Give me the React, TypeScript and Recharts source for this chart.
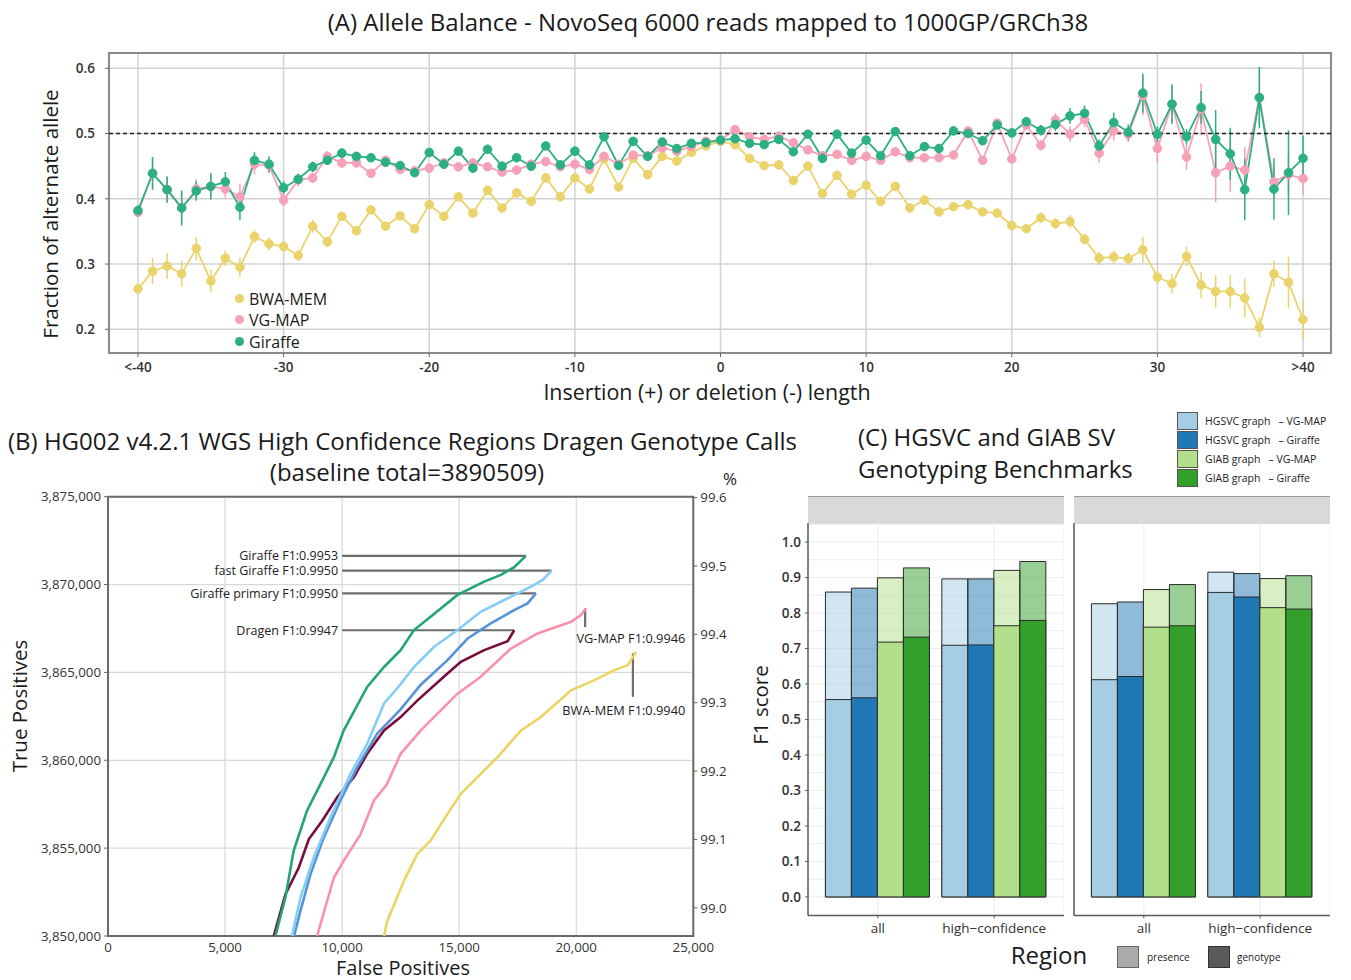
import React from 'react';
import {
  ComposedChart, LineChart, BarChart, Line, Bar, XAxis, YAxis, CartesianGrid,
  ErrorBar, ReferenceLine, ReferenceArea, ReferenceDot,
} from 'recharts';

const FONT = '"Open Sans", "Noto Sans", sans-serif';

// ---------------- Panel A : allele balance ----------------
const indelLengths = [
  -40, -39, -38, -37, -36, -35, -34, -33, -32, -31, -30, -29, -28, -27, -26, -25, -24, -23, -22, -21,
  -20, -19, -18, -17, -16, -15, -14, -13, -12, -11, -10, -9, -8, -7, -6, -5, -4, -3, -2, -1,
  0, 1, 2, 3, 4, 5, 6, 7, 8, 9, 10, 11, 12, 13, 14, 15, 16, 17, 18, 19,
  20, 21, 22, 23, 24, 25, 26, 27, 28, 29, 30, 31, 32, 33, 34, 35, 36, 37, 38, 39, 40,
];
const bwaMem = [
  0.262, 0.289, 0.297, 0.285, 0.324, 0.274, 0.309, 0.295, 0.342, 0.331, 0.327, 0.313, 0.358, 0.334, 0.373, 0.351, 0.383, 0.358, 0.374, 0.354,
  0.391, 0.373, 0.403, 0.378, 0.413, 0.386, 0.409, 0.396, 0.432, 0.403, 0.432, 0.415, 0.461, 0.418, 0.462, 0.437, 0.465, 0.458, 0.471, 0.481,
  0.488, 0.483, 0.462, 0.451, 0.452, 0.428, 0.450, 0.408, 0.436, 0.407, 0.421, 0.396, 0.419, 0.386, 0.398, 0.380, 0.388, 0.391, 0.380, 0.378,
  0.359, 0.354, 0.371, 0.362, 0.365, 0.338, 0.309, 0.311, 0.308, 0.322, 0.280, 0.270, 0.312, 0.268, 0.258, 0.258, 0.248, 0.203, 0.285, 0.272, 0.215,
];
const vgMap = [
  0.379, 0.439, 0.414, 0.386, 0.415, 0.419, 0.415, 0.403, 0.453, 0.451, 0.398, 0.429, 0.432, 0.465, 0.455, 0.455, 0.439, 0.459, 0.445, 0.443,
  0.447, 0.455, 0.449, 0.455, 0.449, 0.441, 0.444, 0.453, 0.457, 0.449, 0.453, 0.445, 0.465, 0.453, 0.467, 0.466, 0.478, 0.473, 0.480, 0.488,
  0.490, 0.506, 0.495, 0.491, 0.496, 0.486, 0.475, 0.466, 0.468, 0.459, 0.465, 0.459, 0.472, 0.463, 0.463, 0.463, 0.467, 0.504, 0.459, 0.516,
  0.461, 0.513, 0.482, 0.521, 0.499, 0.522, 0.470, 0.504, 0.499, 0.558, 0.477, 0.545, 0.464, 0.537, 0.440, 0.450, 0.444, 0.555, 0.426, 0.437, 0.431,
];
const giraffe = [
  0.382, 0.439, 0.414, 0.386, 0.412, 0.419, 0.426, 0.387, 0.459, 0.453, 0.417, 0.430, 0.449, 0.459, 0.470, 0.465, 0.463, 0.456, 0.451, 0.440,
  0.471, 0.453, 0.473, 0.447, 0.476, 0.450, 0.463, 0.450, 0.481, 0.452, 0.473, 0.452, 0.495, 0.451, 0.488, 0.465, 0.487, 0.477, 0.485, 0.486,
  0.490, 0.492, 0.485, 0.483, 0.491, 0.472, 0.499, 0.462, 0.499, 0.470, 0.490, 0.466, 0.503, 0.466, 0.480, 0.477, 0.504, 0.500, 0.489, 0.513,
  0.501, 0.518, 0.505, 0.514, 0.527, 0.531, 0.481, 0.517, 0.502, 0.562, 0.499, 0.545, 0.495, 0.540, 0.491, 0.469, 0.414, 0.555, 0.415, 0.440, 0.462,
];
const bwaMemErr = [
  0.006, 0.020, 0.020, 0.020, 0.018, 0.018, 0.012, 0.015, 0.010, 0.010, 0.008, 0.008, 0.010, 0.008, 0.006, 0.006, 0.006, 0.005, 0.005, 0.005,
  0.005, 0.005, 0.005, 0.005, 0.005, 0.005, 0.005, 0.005, 0.005, 0.005, 0.005, 0.005, 0.005, 0.005, 0.005, 0.005, 0.005, 0.005, 0.005, 0.005,
  0.005, 0.005, 0.005, 0.005, 0.005, 0.005, 0.005, 0.005, 0.005, 0.005, 0.005, 0.005, 0.005, 0.005, 0.005, 0.005, 0.005, 0.005, 0.005, 0.005,
  0.006, 0.006, 0.008, 0.008, 0.010, 0.008, 0.010, 0.010, 0.010, 0.020, 0.010, 0.015, 0.015, 0.020, 0.025, 0.025, 0.030, 0.015, 0.020, 0.040, 0.030,
];
const vgMapErr = [
  0.006, 0.025, 0.020, 0.025, 0.015, 0.020, 0.015, 0.020, 0.015, 0.012, 0.010, 0.010, 0.008, 0.008, 0.007, 0.006, 0.006, 0.006, 0.005, 0.005,
  0.004, 0.004, 0.004, 0.004, 0.004, 0.004, 0.004, 0.004, 0.004, 0.004, 0.004, 0.004, 0.004, 0.004, 0.004, 0.004, 0.004, 0.004, 0.004, 0.004,
  0.004, 0.004, 0.004, 0.004, 0.004, 0.004, 0.004, 0.004, 0.004, 0.004, 0.004, 0.004, 0.004, 0.004, 0.004, 0.004, 0.005, 0.006, 0.006, 0.006,
  0.006, 0.007, 0.008, 0.010, 0.012, 0.012, 0.015, 0.015, 0.012, 0.030, 0.022, 0.030, 0.020, 0.040, 0.045, 0.040, 0.035, 0.040, 0.025, 0.030, 0.025,
];
const giraffeErr = [
  0.008, 0.025, 0.020, 0.027, 0.015, 0.020, 0.015, 0.020, 0.013, 0.012, 0.010, 0.008, 0.008, 0.007, 0.007, 0.006, 0.006, 0.006, 0.005, 0.005,
  0.004, 0.004, 0.004, 0.004, 0.004, 0.004, 0.004, 0.004, 0.004, 0.004, 0.004, 0.004, 0.004, 0.004, 0.004, 0.004, 0.004, 0.004, 0.004, 0.004,
  0.004, 0.004, 0.004, 0.004, 0.004, 0.004, 0.004, 0.004, 0.004, 0.004, 0.004, 0.004, 0.004, 0.004, 0.004, 0.004, 0.005, 0.006, 0.006, 0.006,
  0.006, 0.007, 0.008, 0.010, 0.012, 0.012, 0.010, 0.015, 0.012, 0.030, 0.012, 0.030, 0.012, 0.025, 0.045, 0.040, 0.047, 0.047, 0.047, 0.065, 0.035,
];
const aXTicks = [-40, -30, -20, -10, 0, 10, 20, 30, 40];
const aXTickLabels = ['<-40', '-30', '-20', '-10', '0', '10', '20', '30', '>40'];
const aYTicks = [0.2, 0.3, 0.4, 0.5, 0.6];
const aSeries = [
  { key: 'bwa', name: 'BWA-MEM', color: '#ebd36c' },
  { key: 'vg', name: 'VG-MAP', color: '#f7a1b6' },
  { key: 'gir', name: 'Giraffe', color: '#2bb084' },
];

// ---------------- Panel B : ROC-like curves ----------------
const baselineTotal = 3890509;
const giraffeFp = [7150, 7580, 7930, 8500, 9080, 9650, 10070, 11070, 11790, 12500, 13070, 13780, 14930, 16070, 16780, 17350, 17850];
const giraffeTp = [3850000, 3852200, 3854850, 3857130, 3858660, 3860180, 3861700, 3864170, 3865310, 3866270, 3867410, 3868170, 3869410, 3870170, 3870550, 3870990, 3871630];
const fastGiraffeFp = [7860, 8220, 8790, 9500, 10360, 11070, 11790, 12400, 13070, 13930, 14930, 15920, 17070, 18070, 18570, 18950];
const fastGiraffeTp = [3850000, 3852190, 3854470, 3856750, 3859230, 3860940, 3863230, 3864170, 3865310, 3866460, 3867410, 3868450, 3869220, 3869880, 3870260, 3870790];
const primaryFp = [7950, 8220, 8650, 9220, 9930, 10650, 11500, 12500, 13360, 14500, 15360, 16350, 17350, 17920, 18280];
const primaryTp = [3850000, 3851430, 3853520, 3855610, 3857710, 3859610, 3861520, 3862900, 3864300, 3865700, 3866930, 3867790, 3868550, 3868930, 3869500];
const dragenFp = [7080, 7580, 8150, 8580, 9150, 9790, 10500, 11070, 11790, 12500, 13220, 14500, 15070, 16070, 17070, 17350];
const dragenTp = [3850000, 3852380, 3853900, 3855520, 3856560, 3857900, 3859040, 3860370, 3861700, 3862460, 3863410, 3864940, 3865600, 3866270, 3866780, 3867400];
const vgMapFp = [8930, 9650, 10070, 10790, 11360, 11900, 12500, 13360, 14930, 15920, 17210, 18350, 19780, 20200, 20420];
const vgMapTp = [3850000, 3853330, 3854280, 3855800, 3857710, 3858600, 3860370, 3861700, 3863790, 3864750, 3866360, 3867220, 3867880, 3868270, 3868650];
const bwaFp = [11790, 11930, 12640, 13210, 13780, 14500, 15070, 15920, 16640, 17640, 18490, 19780, 20780, 21630, 22200, 22560];
const bwaTp = [3850000, 3850860, 3853140, 3854660, 3855420, 3856950, 3858090, 3859230, 3860180, 3861700, 3862460, 3863980, 3864560, 3865130, 3865410, 3866170];
const bXTicks = [0, 5000, 10000, 15000, 20000, 25000];
const bXTickLabels = ['0', '5,000', '10,000', '15,000', '20,000', '25,000'];
const bYTicks = [3850000, 3855000, 3860000, 3865000, 3870000, 3875000];
const bYTickLabels = ['3,850,000', '3,855,000', '3,860,000', '3,865,000', '3,870,000', '3,875,000'];
const bPctTicks = [99.0, 99.1, 99.2, 99.3, 99.4, 99.5, 99.6];
const bDomain = [3850000, 3875000];
// horizontal call-out labels (left side)
const hLabelText = ['Giraffe F1:0.9953', 'fast Giraffe F1:0.9950', 'Giraffe primary F1:0.9950', 'Dragen F1:0.9947'];
const hLabelTp = [3871630, 3870790, 3869500, 3867400];
const hLabelFpEnd = [17850, 18950, 18280, 17350];
const hLabelFpStart = 10000;
// vertical call-out labels (right side)
const vLabelText = ['VG-MAP F1:0.9946', 'BWA-MEM F1:0.9940'];
const vLabelFp = [20380, 22420];
const vLabelTpTop = [3868650, 3866080];
const vLabelTpBottom = [3867580, 3863610];
const vLabelTextTp = [3866950, 3862860];
const vLabelTextFp = 24660;

const toRows = (fp: number[], tp: number[]) => fp.map((f, i) => ({ fp: f, tp: tp[i] }));
const bSeries = [
  { name: 'BWA-MEM', color: '#ecd464', rows: toRows(bwaFp, bwaTp) },
  { name: 'VG-MAP', color: '#f992a8', rows: toRows(vgMapFp, vgMapTp) },
  { name: 'Dragen', color: '#7a0c3d', rows: toRows(dragenFp, dragenTp) },
  { name: 'Giraffe primary', color: '#5893d8', rows: toRows(primaryFp, primaryTp) },
  { name: 'fast Giraffe', color: '#84cdf6', rows: toRows(fastGiraffeFp, fastGiraffeTp) },
  { name: 'Giraffe', color: '#22a574', rows: toRows(giraffeFp, giraffeTp) },
];

// ---------------- Panel C : SV genotyping ----------------
const regions = ['all', 'high\u2212confidence'];
const cSeries = [
  { key: 'hv', label: 'HGSVC graph   \u2013 VG-MAP', color: '#a6cee3' },
  { key: 'hg', label: 'HGSVC graph   \u2013 Giraffe', color: '#1f78b4' },
  { key: 'gv', label: 'GIAB graph   \u2013 VG-MAP', color: '#b2df8a' },
  { key: 'gg', label: 'GIAB graph   \u2013 Giraffe', color: '#33a02c' },
];
// facet 1
const f1PresenceHv = [0.859, 0.896];
const f1PresenceHg = [0.870, 0.896];
const f1PresenceGv = [0.899, 0.920];
const f1PresenceGg = [0.927, 0.945];
const f1GenotypeHv = [0.556, 0.709];
const f1GenotypeHg = [0.561, 0.710];
const f1GenotypeGv = [0.718, 0.764];
const f1GenotypeGg = [0.732, 0.779];
// facet 2
const f2PresenceHv = [0.826, 0.915];
const f2PresenceHg = [0.831, 0.911];
const f2PresenceGv = [0.866, 0.897];
const f2PresenceGg = [0.880, 0.905];
const f2GenotypeHv = [0.612, 0.858];
const f2GenotypeHg = [0.621, 0.845];
const f2GenotypeGv = [0.760, 0.815];
const f2GenotypeGg = [0.764, 0.811];
const cYTicks = [0, 0.1, 0.2, 0.3, 0.4, 0.5, 0.6, 0.7, 0.8, 0.9, 1.0];
const cGridValues = [0, 0.05, 0.1, 0.15, 0.2, 0.25, 0.3, 0.35, 0.4, 0.45, 0.5, 0.55, 0.6, 0.65, 0.7, 0.75, 0.8, 0.85, 0.9, 0.95, 1.0, 1.05];

const buildFacet = (p: number[][], g: number[][]) =>
  regions.map((region, i) => ({
    region,
    p_hv: p[0][i], p_hg: p[1][i], p_gv: p[2][i], p_gg: p[3][i],
    g_hv: g[0][i], g_hg: g[1][i], g_gv: g[2][i], g_gg: g[3][i],
  }));
const facet1 = buildFacet([f1PresenceHv, f1PresenceHg, f1PresenceGv, f1PresenceGg], [f1GenotypeHv, f1GenotypeHg, f1GenotypeGv, f1GenotypeGg]);
const facet2 = buildFacet([f2PresenceHv, f2PresenceHg, f2PresenceGv, f2PresenceGg], [f2GenotypeHv, f2GenotypeHg, f2GenotypeGv, f2GenotypeGg]);

// ---------------- helpers ----------------
type TProps = {
  x: number; y: number; size: number; children: React.ReactNode;
  anchor?: 'start' | 'middle' | 'end'; rotate?: boolean; weight?: number; color?: string;
};
const T = ({ x, y, size, children, anchor = 'middle', rotate = false, weight = 400, color = '#1a1a1a' }: TProps) => {
  const tx = anchor === 'start' ? '0' : anchor === 'end' ? '-100%' : '-50%';
  return (
    <div
      style={{
        position: 'absolute', left: x, top: y, fontSize: size, fontFamily: FONT, fontWeight: weight,
        color, whiteSpace: 'pre', lineHeight: 1,
        transform: rotate ? 'translate(-50%,-50%) rotate(-90deg)' : `translate(${tx},-50%)`,
      }}
    >
      {children}
    </div>
  );
};

const tickStyle = { fontSize: 13.5, fill: '#333', fontFamily: FONT, fontWeight: 600 };

const alleleRows = indelLengths.map((len, i) => ({
  len,
  bwa: bwaMem[i], bwaErr: bwaMemErr[i],
  vg: vgMap[i], vgErr: vgMapErr[i],
  gir: giraffe[i], girErr: giraffeErr[i],
}));

const A_X = [-41.99, 41.92];
const A_Y = [0.1637, 0.6234];

const PanelA = () => (
  <div style={{ position: 'absolute', left: 0, top: 0 }}>
    <ComposedChart width={1351} height={400} data={alleleRows} margin={{ top: 53, right: 20, bottom: 17, left: 69 }}>
      <CartesianGrid stroke="#d2d2d2" strokeWidth={1.5} />
      <XAxis
        dataKey="len" type="number" domain={A_X} allowDataOverflow ticks={aXTicks} interval={0}
        tickFormatter={(v: number) => aXTickLabels[aXTicks.indexOf(v)]}
        height={30} axisLine={false} tickLine={{ stroke: '#666' }} tickSize={4} tickMargin={5} tick={tickStyle}
      />
      <YAxis
        type="number" domain={A_Y} allowDataOverflow ticks={aYTicks} interval={0} width={40}
        tickFormatter={(v: number) => v.toFixed(1)}
        axisLine={false} tickLine={{ stroke: '#666' }} tickSize={4} tickMargin={10} tick={tickStyle}
      />
      <ReferenceArea x1={A_X[0]} x2={A_X[1]} y1={A_Y[0]} y2={A_Y[1]} fill="none" fillOpacity={0} stroke="#8a8a8a" strokeWidth={2} ifOverflow="visible" />
      {aSeries.map((s) => (
        <Line
          key={s.key} dataKey={s.key} type="linear" stroke={s.color} strokeWidth={1.8}
          dot={{ r: 4.3, fill: s.color, stroke: s.color, strokeWidth: 1 }} activeDot={false}
          isAnimationActive={false}
        >
          <ErrorBar dataKey={`${s.key}Err`} width={0} strokeWidth={1.5} stroke={s.color} direction="y" />
        </Line>
      ))}
      <ReferenceLine y={0.5} stroke="#222" strokeDasharray="4 3" strokeWidth={1.6} />
    </ComposedChart>
  </div>
);

const pctDomain = [bDomain[0] / baselineTotal * 100, bDomain[1] / baselineTotal * 100];
const bTick = { ...tickStyle, fontWeight: 400, fontSize: 13.3 };

const PanelB = () => (
  <div style={{ position: 'absolute', left: 0, top: 480 }}>
    <LineChart width={760} height={500} margin={{ top: 16.7, right: 6.7, bottom: 14, left: 8 }}>
      <CartesianGrid yAxisId="tp" stroke="#d8d8d8" strokeWidth={1.2} />
      <XAxis
        dataKey="fp" type="number" domain={[0, 25000]} allowDataOverflow ticks={bXTicks} interval={0}
        tickFormatter={(v: number) => bXTickLabels[bXTicks.indexOf(v)]}
        height={30} axisLine={false} tickLine={false} tickMargin={1} tick={bTick}
      />
      <YAxis
        yAxisId="tp" type="number" domain={bDomain} allowDataOverflow ticks={bYTicks} interval={0} width={100}
        tickFormatter={(v: number) => bYTickLabels[bYTicks.indexOf(v)]}
        axisLine={false} tickLine={{ stroke: '#666' }} tickSize={4} tickMargin={3} tick={bTick}
      />
      <YAxis
        yAxisId="pct" orientation="right" type="number" domain={pctDomain} allowDataOverflow ticks={bPctTicks} interval={0} width={60}
        tickFormatter={(v: number) => v.toFixed(1)}
        axisLine={false} tickLine={{ stroke: '#666' }} tickSize={4} tickMargin={3} tick={bTick}
      />
      <ReferenceArea yAxisId="tp" x1={0} x2={25000} y1={bDomain[0]} y2={bDomain[1]} fill="none" fillOpacity={0} stroke="#6a6a6a" strokeWidth={2} ifOverflow="visible" />
      {hLabelText.map((t, i) => (
        <ReferenceLine
          key={`hl${i}`} yAxisId="tp" stroke="#6e6e6e" strokeWidth={2.2}
          segment={[{ x: hLabelFpStart, y: hLabelTp[i] }, { x: hLabelFpEnd[i], y: hLabelTp[i] }]}
        />
      ))}
      {vLabelText.map((t, i) => (
        <ReferenceLine
          key={`vl${i}`} yAxisId="tp" stroke="#6e6e6e" strokeWidth={2.2}
          segment={[{ x: vLabelFp[i], y: vLabelTpTop[i] }, { x: vLabelFp[i], y: vLabelTpBottom[i] }]}
        />
      ))}
      {bSeries.map((s) => (
        <Line
          key={s.name} data={s.rows} dataKey="tp" yAxisId="tp" type="linear" stroke={s.color} strokeWidth={2.6}
          dot={false} activeDot={false} isAnimationActive={false}
        />
      ))}
      {hLabelText.map((t, i) => (
        <ReferenceDot
          key={`hd${i}`} yAxisId="tp" x={hLabelFpStart} y={hLabelTp[i]} r={0} fill="none" stroke="none"
          label={{ value: t, position: 'left', offset: 4, fontSize: 12.5, fill: '#222', fontFamily: FONT }}
        />
      ))}
      {vLabelText.map((t, i) => (
        <ReferenceDot
          key={`vd${i}`} yAxisId="tp" x={vLabelTextFp} y={vLabelTextTp[i]} r={0} fill="none" stroke="none"
          label={{ value: t, position: 'left', offset: 0, fontSize: 12.8, fill: '#222', fontFamily: FONT }}
        />
      ))}
    </LineChart>
  </div>
);

const C_Y = [-0.052, 1.0535];
const Facet = ({ rows, left, showY }: { rows: typeof facet1; left: number; showY: boolean }) => (
  <div style={{ position: 'absolute', left, top: 523.3 }}>
    <BarChart width={306} height={422.4} data={rows} margin={{ top: 0, right: 0, bottom: 0, left: 0 }} barCategoryGap="5%" barGap={0}>
      <CartesianGrid xAxisId="p" stroke="#ececec" strokeWidth={1} horizontalValues={cGridValues} />
      <XAxis xAxisId="g" dataKey="region" padding={{ left: 11.6, right: 11.6 }} hide height={0} />
      <XAxis
        xAxisId="p" dataKey="region" padding={{ left: 11.6, right: 11.6 }} height={30} interval={0}
        axisLine={{ stroke: '#5a5a5a', strokeWidth: 1.5 }} tickLine={{ stroke: '#5a5a5a' }} tickSize={3} tickMargin={5}
        tick={{ fontSize: 13.5, fill: '#333', fontFamily: FONT }}
      />
      <YAxis
        type="number" domain={C_Y} allowDataOverflow ticks={cYTicks} interval={0} width={50}
        tickFormatter={(v: number) => v.toFixed(1)}
        axisLine={{ stroke: '#5a5a5a', strokeWidth: 1.5 }}
        tickLine={showY ? { stroke: '#5a5a5a' } : false} tickSize={3} tickMargin={4}
        tick={showY ? tickStyle : false}
      />
      {cSeries.map((s) => (
        <Bar key={`p_${s.key}`} xAxisId="p" dataKey={`p_${s.key}`} fill={s.color} fillOpacity={0.5} stroke="#2a2a2a" strokeWidth={1} isAnimationActive={false} />
      ))}
      {cSeries.map((s) => (
        <Bar key={`g_${s.key}`} xAxisId="g" dataKey={`g_${s.key}`} fill={s.color} stroke="#2a2a2a" strokeWidth={1} isAnimationActive={false} />
      ))}
    </BarChart>
  </div>
);

const Strip = ({ left }: { left: number }) => (
  <div style={{ position: 'absolute', left, top: 496, width: 256, height: 27, background: '#d9d9d9', borderTop: '1px solid #9a9a9a' }} />
);

export default function App() {
  return (
    <div style={{ position: 'absolute', left: 0, top: 0, width: 1351, height: 980, background: '#fff', overflow: 'hidden', fontFamily: FONT }}>
      {/* Panel A */}
      <PanelA />
      <T x={708} y={22} size={24}>(A) Allele Balance - NovoSeq 6000 reads mapped to 1000GP/GRCh38</T>
      <T x={50} y={214} size={20.5} rotate>Fraction of alternate allele</T>
      <T x={707} y={392} size={21.4}>Insertion (+) or deletion (-) length</T>
      {aSeries.map((s, i) => (
        <React.Fragment key={s.key}>
          <div style={{ position: 'absolute', left: 234.5, top: 293.5 + i * 21.7, width: 9, height: 9, borderRadius: '50%', background: s.color }} />
          <T x={249} y={298.5 + i * 21.7} size={16} anchor="start">{s.name}</T>
        </React.Fragment>
      ))}

      {/* Panel B */}
      <PanelB />
      <T x={8} y={441} size={24} anchor="start">(B) HG002 v4.2.1 WGS High Confidence Regions Dragen Genotype Calls</T>
      <T x={407} y={472} size={24}>(baseline total=3890509)</T>
      <T x={730} y={478} size={17}>%</T>
      <T x={19} y={706} size={20.5} rotate>True Positives</T>
      <T x={403} y={968} size={20}>False Positives</T>

      {/* Panel C */}
      <Strip left={808.3} />
      <Strip left={1074.3} />
      <Facet rows={facet1} left={758.3} showY />
      <Facet rows={facet2} left={1024.3} showY={false} />
      <T x={858} y={437} size={24} anchor="start">(C) HGSVC and GIAB SV</T>
      <T x={858} y={469} size={24} anchor="start">Genotyping Benchmarks</T>
      <T x={760} y={705} size={20.5} rotate>F1 score</T>
      {cSeries.map((s, i) => (
        <React.Fragment key={s.key}>
          <div style={{ position: 'absolute', left: 1177, top: 412 + i * 19, width: 19, height: 16, background: s.color, border: '1px solid #555' }} />
          <T x={1205} y={421 + i * 19} size={10.5} anchor="start">{s.label}</T>
        </React.Fragment>
      ))}
      <T x={1049} y={955} size={24}>Region</T>
      <div style={{ position: 'absolute', left: 1117, top: 946, width: 20, height: 20, background: '#ababab', border: '1px solid #666' }} />
      <T x={1147} y={957} size={10} anchor="start">presence</T>
      <div style={{ position: 'absolute', left: 1208, top: 946, width: 20, height: 20, background: '#5a5a5a', border: '1px solid #333' }} />
      <T x={1237} y={957} size={10} anchor="start">genotype</T>
    </div>
  );
}
